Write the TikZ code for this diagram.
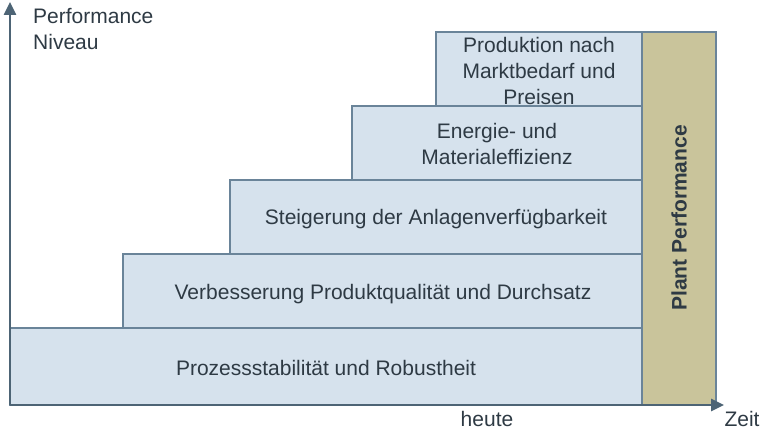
\documentclass[tikz,border=0pt]{standalone}
\usepackage{fontspec}
\setmainfont{Liberation Sans}
\usetikzlibrary{arrows.meta}
\definecolor{boxfill}{HTML}{D6E2ED}
\definecolor{boxline}{HTML}{6A8499}
\definecolor{olive}{HTML}{C9C49B}
\definecolor{axis}{HTML}{4D6475}
\definecolor{txt}{HTML}{2E3A44}
\begin{document}
\begin{tikzpicture}[x=1pt,y=-1pt,
  stepbox/.style={draw=boxline,line width=1.2pt,fill=boxfill},
  lbl/.style={text=txt,font=\fontsize{21}{26}\selectfont,align=center}]
\useasboundingbox (0,0) rectangle (760,430);
\draw[stepbox] (10,328) rectangle (642,405);
\draw[stepbox] (123,254) rectangle (642,328);
\draw[stepbox] (230,180) rectangle (642,254);
\draw[stepbox] (352,106) rectangle (642,180);
\draw[stepbox] (436,32) rectangle (642,106);
\draw[draw=boxline,line width=1.2pt,fill=olive] (642,32) rectangle (716,405);
\node[lbl] (s1) at (326,368) {Prozessstabilität und Robustheit};
\node[lbl] (s2) at (383,294) {Verbesserung Produktqualität und Durchsatz};
\node[lbl] (s3) at (436,219) {Steigerung der Anlagenverfügbarkeit};
\node[lbl] (s4) at (497,144) {Energie- und\\Materialeffizienz};
\node[lbl] (s5) at (539,71) {Produktion nach\\Marktbedarf und\\Preisen};
\node[lbl,font=\fontsize{21}{26}\selectfont\bfseries,rotate=90] (pp) at (679,218) {Plant Performance};
\coordinate (o) at (10,405);
\coordinate (yt) at (10,2);
\coordinate (xt) at (724,405);
\draw[axis,line width=2.5pt,-{Triangle[length=13pt,width=12pt]}] (o) -- (yt);
\draw[axis,line width=2.5pt,-{Triangle[length=13pt,width=12pt]}] (o) -- (xt);
\node[lbl,align=left,anchor=north west,inner sep=0pt] (pn) at (33,8) {Performance\\Niveau};
\node[lbl,inner sep=0pt] (h) at (487,419) {heute};
\node[lbl,inner sep=0pt] (z) at (742,419) {Zeit};
\end{tikzpicture}
\end{document}
